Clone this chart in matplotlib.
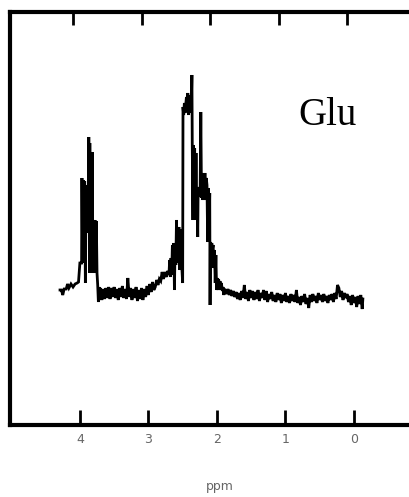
import matplotlib
matplotlib.use("Agg")
import matplotlib.pyplot as plt
import numpy as np

# Chemical shift (ppm) and signal intensity (arbitrary units, baseline ~ 0)
ppm = [
    4.29, 4.27, 4.25, 4.23, 4.20, 4.18, 4.16, 4.13, 4.10, 4.07, 4.04, 4.02, 4.00, 3.985,
    3.975, 3.97, 3.96, 3.95, 3.94, 3.93, 3.92, 3.915, 3.905, 3.895, 3.885, 3.875, 3.87,
    3.86, 3.855, 3.845, 3.84, 3.83, 3.82, 3.81, 3.80, 3.79, 3.78, 3.77, 3.76, 3.75,
    3.74, 3.73, 3.72, 3.71, 3.70,
    3.68, 3.66, 3.64, 3.62, 3.60, 3.58, 3.56, 3.54, 3.52, 3.50, 3.48, 3.46, 3.44, 3.42,
    3.40, 3.38, 3.36, 3.34, 3.32, 3.30, 3.28, 3.26, 3.24, 3.22, 3.20, 3.18, 3.16, 3.14,
    3.12, 3.10, 3.08, 3.06, 3.04, 3.02, 3.00, 2.98, 2.96, 2.94, 2.92,
    2.90, 2.88, 2.86, 2.84, 2.82, 2.80, 2.78, 2.76, 2.74, 2.72, 2.70, 2.69, 2.68, 2.67,
    2.66, 2.65, 2.64, 2.63, 2.62, 2.61, 2.60, 2.59, 2.58, 2.575, 2.565, 2.555, 2.545,
    2.535, 2.525, 2.515,
    2.510, 2.500, 2.495, 2.485, 2.475, 2.465, 2.455, 2.445, 2.435, 2.425, 2.415, 2.405,
    2.395, 2.385, 2.375, 2.365, 2.360, 2.350, 2.345, 2.335, 2.325, 2.315, 2.305, 2.295,
    2.290, 2.280, 2.275, 2.265, 2.255, 2.245, 2.235, 2.225, 2.215, 2.205, 2.195, 2.185,
    2.175, 2.165, 2.155, 2.145, 2.135, 2.125, 2.115, 2.105, 2.100, 2.095, 2.085, 2.075,
    2.065, 2.055, 2.045, 2.035, 2.025, 2.015, 2.005, 1.995, 1.985, 1.975, 1.965, 1.955,
    1.945, 1.935, 1.92, 1.91, 1.90, 1.89,
    1.88, 1.86, 1.84, 1.82, 1.80, 1.78, 1.76, 1.74, 1.72, 1.70, 1.68, 1.66, 1.64, 1.62,
    1.60, 1.58, 1.56, 1.54, 1.52, 1.50, 1.48, 1.46, 1.44, 1.42, 1.40, 1.38, 1.36, 1.34,
    1.32, 1.30, 1.28, 1.26, 1.24, 1.22, 1.20, 1.18, 1.16, 1.14, 1.12, 1.10, 1.08, 1.06,
    1.04, 1.02, 1.00, 0.98, 0.96, 0.94, 0.92, 0.90, 0.88, 0.86, 0.84, 0.82, 0.80, 0.78,
    0.76, 0.74, 0.72, 0.70, 0.68, 0.66, 0.64, 0.62, 0.60, 0.58, 0.56, 0.54, 0.52, 0.50,
    0.48, 0.46, 0.44, 0.42, 0.40, 0.38, 0.36, 0.34, 0.32, 0.30, 0.28, 0.26, 0.24, 0.22,
    0.20, 0.18, 0.16, 0.14, 0.12, 0.10, 0.08, 0.06, 0.04, 0.02, 0.00, -0.02, -0.04,
    -0.06, -0.08, -0.10, -0.12, -0.13,
]
intensity = [
    3, 3, -2, 4, 4, 9, 5, 9, 6, 9, 10, 11, 30, 30,
    30, 115, 30, 113, 32, 112, 10, 108, 60, 108, 62, 105, 156,
    20, 150, 22, 141, 20, 141, 22, 73, 20, 73, 22, 72, 20,
    8, -9, 6, -7, 5,
    -7, 4, -6, 5, -5, 6, -6, 5, -4, 6, -5, 4, -7, 5,
    -4, 7, -5, 4, -6, 15, -4, 5, -7, 4, -5, 6, -8, 3,
    -6, 5, -7, 4, -4, 7, -2, 9, 1, 11, 3,
    6, 13, 8, 14, 12, 21, 14, 21, 16, 22, 18, 33, 16, 35,
    18, 48, 20, 50, 3, 50, 28, 73, 40, 66, 30, 66, 23,
    60, 25, 64,
    23, 10, 186, 178, 190, 180, 188, 196, 182, 200, 178, 198,
    180, 196, 185, 218, 150, 73, 148, 75, 145, 73, 140, 80,
    106, 56, 100, 96, 106, 100, 181, 95, 120, 93, 118, 95,
    120, 93, 115, 108, 51, 105, 55, 100, -12, 51, 43, 50,
    44, 48, 25, 43, 10, 38, 3, 15, 3, 14, 4, 12,
    3, 10, 2, 6, -2, 4,
    3, -1, 4, -2, 3, -3, 2, -4, 1, -6, 0, -7, 2, -5,
    8, -6, 1, -8, 3, -5, 2, -7, 1, -6, 3, -8, 0, -5,
    3, -7, 2, -9, -1, -6, 1, -8, -2, -9, 0, -7, -1, -10,
    -2, -8, 0, -9, -3, -10, -1, -8, -2, -9, 3, -10, -4, -12,
    -3, -9, -1, -11, -5, -15, -2, -9, -1, -8, -3, -10, 0, -7,
    -2, -9, -1, -8, -3, -10, -2, -7, -1, -9, 0, -6, 8, 5,
    -4, 2, -7, 0, -5, -1, -9, -3, -12, -2, -10, -4, -14,
    -3, -11, -2, -16, -6,
]
x_ticks = [4, 3, 2, 1, 0]
x_tick_labels = ["4", "3", "2", "1", "0"]
label_text = "Glu"

fig = plt.figure(figsize=(4.10, 4.97), dpi=100)
ax = fig.add_axes([10 / 410, 72 / 497, 420 / 410, 413 / 497])
ax.plot(ppm, intensity, color="black", lw=2.0, solid_joinstyle="miter")

ax.set_xlim(5.02, -1.11)
ax.set_ylim(-132, 281)

for s in ax.spines.values():
    s.set_linewidth(3.0)
    s.set_color("black")

ax.set_xticks(x_ticks)
ax.set_xticklabels(x_tick_labels)
ax.tick_params(axis="x", direction="in", length=11, width=2, pad=6,
               labelsize=9, labelcolor="#666666", color="black")
ax.set_yticks([])

top = ax.secondary_xaxis("top", functions=(lambda v: v - 0.1, lambda v: v + 0.1))
top.set_xticks(x_ticks)
top.tick_params(axis="x", direction="in", length=9.5, width=2, labeltop=False, color="black")

ax.set_xlabel("ppm", fontsize=9, color="#666666", labelpad=24)

fig.text(298 / 410, (497 - 125) / 497, label_text, fontsize=28,
         family="Liberation Serif", ha="left", va="baseline", color="black")

fig.savefig("out.png", dpi=100)
